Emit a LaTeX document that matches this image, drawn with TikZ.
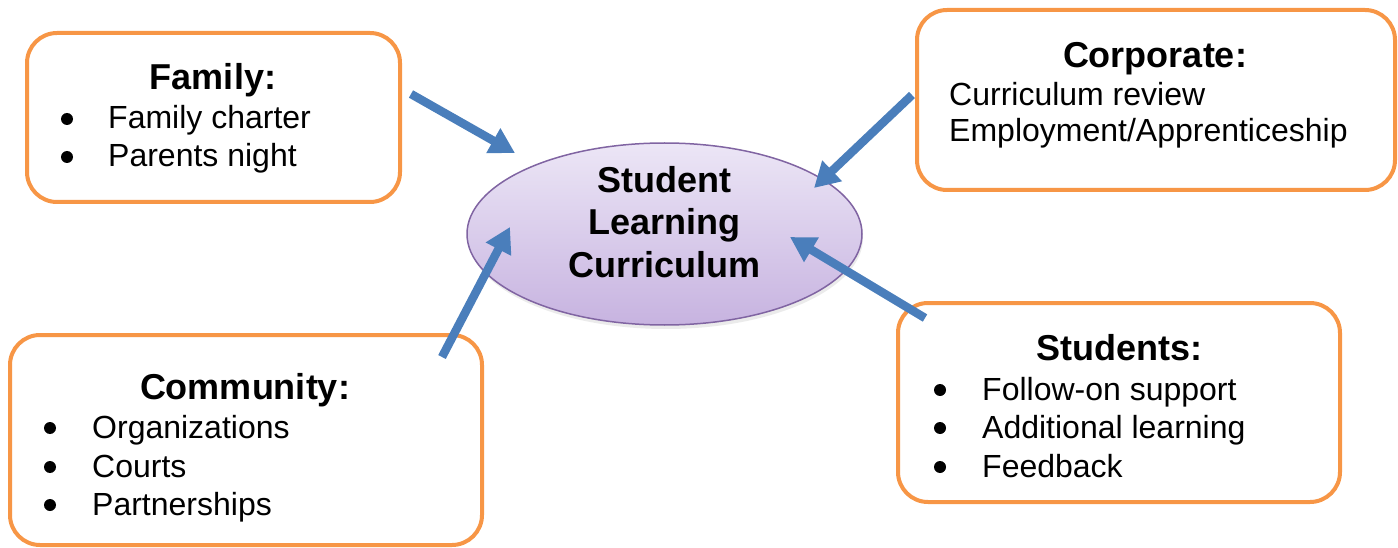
\documentclass[tikz,border=0pt]{standalone}
\usepackage{fontspec}
\setmainfont{Liberation Sans}
\usetikzlibrary{arrows.meta,shapes.geometric}
\definecolor{boxorange}{HTML}{F79646}
\definecolor{arrowblue}{HTML}{4A7EBB}
\definecolor{ellborder}{HTML}{8064A2}
\definecolor{elltop}{HTML}{ECE6F6}
\definecolor{ellbot}{HTML}{C7B3E0}
\tikzset{
  box/.style={draw=boxorange, line width=4pt, rounded corners=30pt, fill=white, inner sep=0pt},
  title/.style={anchor=base, inner sep=0pt, font=\fontsize{36}{41}\selectfont\bfseries},
  item/.style={anchor=base west, inner sep=0pt, font=\fontsize{32}{37}\selectfont},
  bul/.style={circle, fill=black, inner sep=0pt, minimum size=12pt, yshift=10pt},
  center/.style={ellipse, draw=ellborder, line width=1.5pt, top color=elltop, bottom color=ellbot, inner sep=0pt},
  flow/.style={draw=arrowblue, line width=8.5pt, -{Triangle[length=25pt,width=27pt]}},
}
\begin{document}
\begin{tikzpicture}[x=1pt,y=-1pt]
\useasboundingbox (0,0) rectangle (1398,548);
% boxes
\node[box, minimum width=373pt, minimum height=169pt] (family) at (213.5,117.5) {};
\node[box, minimum width=478pt, minimum height=180pt] (corporate) at (1156,100) {};
\node[box, minimum width=472pt, minimum height=210pt] (community) at (246,440) {};
\node[box, minimum width=442pt, minimum height=199pt] (students) at (1119,402.5) {};
% ellipse
\fill[black!8] (666,238) ellipse (197pt and 91pt);
\node[center, minimum width=395pt, minimum height=182pt] (slc) at (664.5,234) {};
\node[title] (s1) at (664.5,193) {Student};
\node[title] (s2) at (664.5,235) {Learning};
\node[title] (s3) at (664.5,277) {Curriculum};
% family text
\node[title] (ft) at (213,90) {Family:};
\node[bul] (fb1) at (67,129) {};
\node[item] (fi1) at (108,129) {Family charter};
\node[bul] (fb2) at (67,167) {};
\node[item] (fi2) at (108,167) {Parents night};
% corporate text
\node[title] (ct) at (1155,68) {Corporate:};
\node[item] (ci1) at (949,106) {Curriculum review};
\node[item] (ci2) at (949,142) {Employment/Apprenticeship};
% community text
\node[title] (mt) at (245,399) {Community:};
\node[bul] (mb1) at (50,438) {};
\node[item] (mi1) at (92,438) {Organizations};
\node[bul] (mb2) at (50,477) {};
\node[item] (mi2) at (92,477) {Courts};
\node[bul] (mb3) at (50,515) {};
\node[item] (mi3) at (92,515) {Partnerships};
% students text
\node[title] (stt) at (1119,360) {Students:};
\node[bul] (sb1) at (940,400) {};
\node[item] (si1) at (982,400) {Follow-on support};
\node[bul] (sb2) at (940,438) {};
\node[item] (si2) at (982,438) {Additional learning};
\node[bul] (sb3) at (940,477) {};
\node[item] (si3) at (982,477) {Feedback};
% arrow ends
\coordinate (a1s) at (411,94);
\coordinate (a1e) at (515,153);
\coordinate (a2s) at (912,95);
\coordinate (a2e) at (814,188);
\coordinate (a3s) at (442,357);
\coordinate (a3e) at (510,227);
\coordinate (a4s) at (925,318);
\coordinate (a4e) at (790,237);
\draw[flow] (a1s) -- (a1e);
\draw[flow] (a2s) -- (a2e);
\draw[flow] (a3s) -- (a3e);
\draw[flow] (a4s) -- (a4e);
\end{tikzpicture}
\end{document}
